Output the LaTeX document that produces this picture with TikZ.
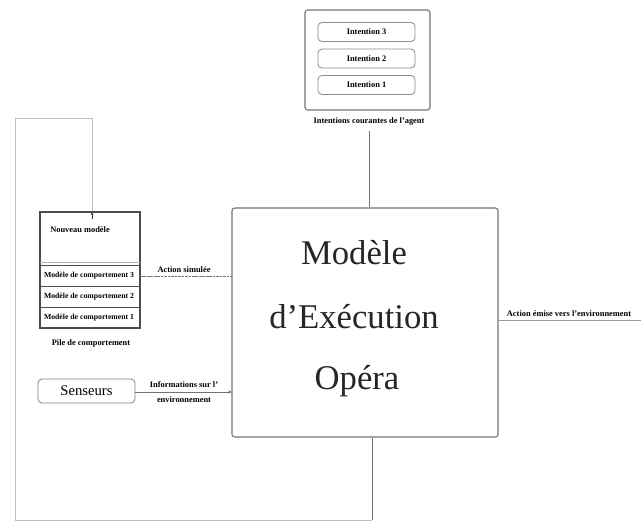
\documentclass[tikz,border=0pt]{standalone}
\usepackage{fontspec}
\setmainfont{Liberation Serif}
\usetikzlibrary{arrows.meta}
\tikzset{
  frame/.style={draw=black!55, line width=0.8pt, rounded corners=2pt},
  slot/.style={draw=black!45, line width=0.6pt, rounded corners=3pt},
  wire/.style={draw=black!55, line width=0.7pt},
  loop/.style={draw=black!25, line width=0.7pt},
  tiny/.style={font=\fontsize{6.3}{7}\selectfont\bfseries, inner sep=0.5pt},
  rowtxt/.style={font=\fontsize{5.8}{7}\selectfont\bfseries, inner sep=0.5pt},
  big/.style={font=\fontsize{26}{30}\selectfont, text=black!85}
}
\begin{document}
\begin{tikzpicture}[x=0.75pt,y=-0.75pt]
\useasboundingbox (0,0) rectangle (641,522);

% intentions of the agent
\node[frame, minimum width=125*0.75pt, minimum height=100*0.75pt] (intent) at (367.5,60) {};
\node[slot, minimum width=97*0.75pt, minimum height=19*0.75pt, tiny] (i3) at (366.5,32) {Intention 3};
\node[slot, minimum width=97*0.75pt, minimum height=19*0.75pt, tiny] (i2) at (366.5,58.5) {Intention 2};
\node[slot, minimum width=97*0.75pt, minimum height=19*0.75pt, tiny] (i1) at (366.5,85) {Intention 1};
\node[tiny] (intcap) at (369,122) {Intentions courantes de l'agent};

% execution model
\node[frame, minimum width=266*0.75pt, minimum height=229*0.75pt] (main) at (365,322.5) {};
\node[big] (t1) at (354,253) {Modèle};
\node[big] (t2) at (354,317) {d'Exécution};
\node[big] (t3) at (357,381) {Opéra};

% behaviour stack
\node[draw=black!70, line width=0.8pt, minimum width=100*0.75pt, minimum height=116*0.75pt] (stack) at (90,270) {};
\node[tiny] (nm) at (80,230) {Nouveau modèle};
\coordinate (s0l) at (40,262); \coordinate (s0r) at (140,262);
\coordinate (s1l) at (40,265); \coordinate (s1r) at (140,265);
\coordinate (s2l) at (40,286); \coordinate (s2r) at (140,286);
\coordinate (s3l) at (40,307); \coordinate (s3r) at (140,307);
\draw[draw=black!30, line width=0.6pt] (s0l) -- (s0r);
\draw[draw=black!70, line width=0.7pt] (s1l) -- (s1r) (s2l) -- (s2r) (s3l) -- (s3r);
\node[rowtxt] (m3) at (89,276) {Modèle de comportement 3};
\node[rowtxt] (m2) at (89,296.5) {Modèle de comportement 2};
\node[rowtxt] (m1) at (89,317.5) {Modèle de comportement 1};
\node[tiny] (pcap) at (91,343) {Pile de comportement};

% sensors
\node[slot, draw=black!50, minimum width=97*0.75pt, minimum height=24*0.75pt, font=\fontsize{11}{12}\selectfont] (sens) at (86.5,391) {Senseurs};

% connectors
\coordinate (asl) at (140,276);
\coordinate (asr) at (232,276);
\draw[wire, dashed, dash pattern=on 2pt off 0.6pt] (asl) -- (asr);
\node[tiny] (aslab) at (184,270) {Action simulée};

\coordinate (senr) at (232,392);
\draw[wire, -{Stealth[length=3pt,width=2.5pt]}] (sens.east |- senr) -- (senr);
\node[tiny] (inf1) at (184,385) {Informations sur l'};
\node[tiny] (inf2) at (184,400) {environnement};

\draw[wire] (intcap.south) ++(0,4) coordinate (ic) -- (ic |- main.north);

\coordinate (outr) at (641,320);
\draw[wire, draw=black!40] (main.east |- outr) -- (outr);
\node[tiny] (outlab) at (569,314) {Action émise vers l'environnement};

% feedback to the stack
\coordinate (b1) at (372,520);
\coordinate (b2) at (15,520);
\coordinate (b3) at (15,118);
\coordinate (b4) at (92,118);
\draw[wire] (main.south -| b1) -- (b1);
\draw[loop] (b1) -- (b2) -- (b3) -- (b4) -- (b4 |- stack.north);
\draw[draw=black!80, line width=0.6pt, -{Stealth[length=2.5pt,width=2pt]}] (92,219) -- (92,212);
\end{tikzpicture}
\end{document}
